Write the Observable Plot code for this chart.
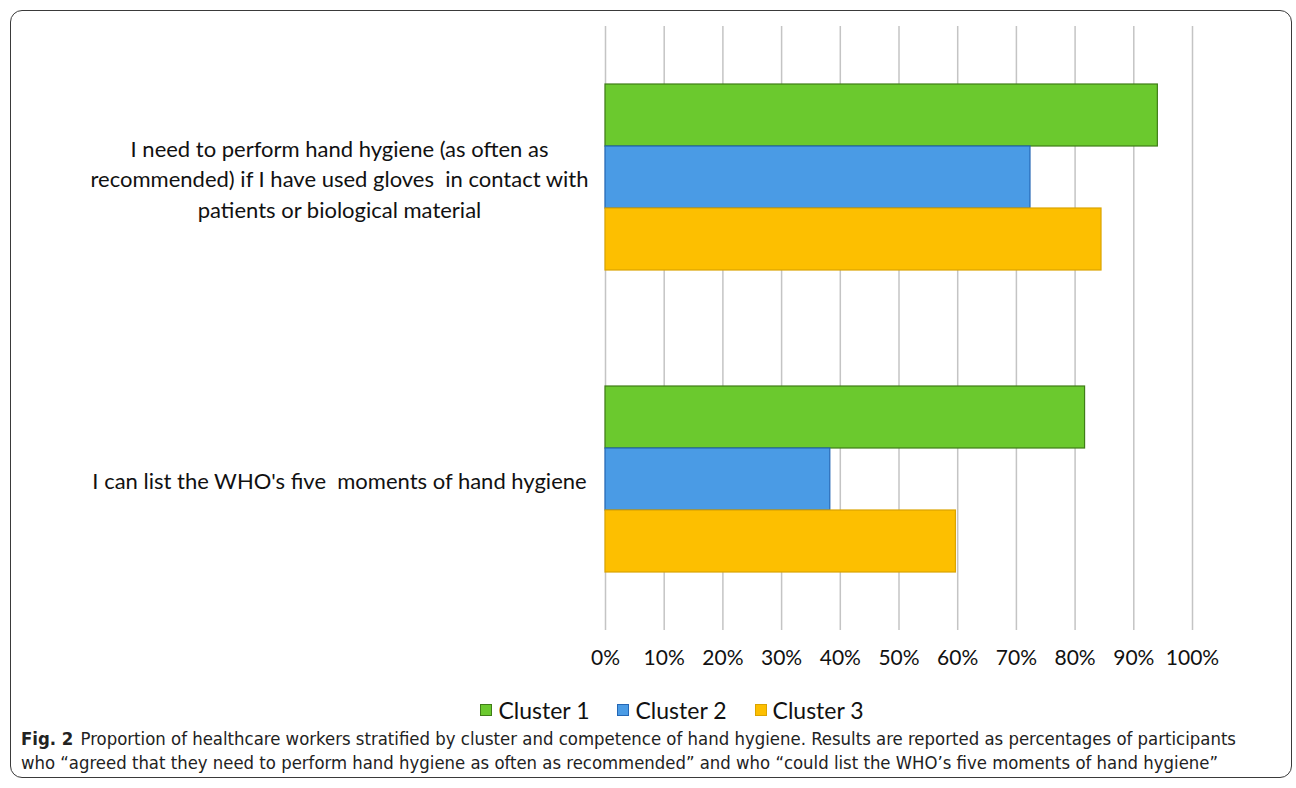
<!DOCTYPE html>
<html>
<head>
<meta charset="utf-8">
<script src="https://cdn.jsdelivr.net/npm/d3@7"></script>
<script src="https://cdn.jsdelivr.net/npm/@observablehq/plot@0.6"></script>
<style>
  html, body { margin: 0; padding: 0; background: #fff; }
  #wrap { position: relative; width: 1296px; height: 788px; overflow: hidden; }
  #frame { position: absolute; left: 10px; top: 10px; width: 1282px; height: 768px;
           border: 1.5px solid #3a3a3a; border-radius: 12px; box-sizing: border-box; }
  #chart { position: absolute; left: 0; top: 0; }
  #legend { position: absolute; left: 0; top: 696px; width: 1296px; display: flex; justify-content: center;
            font-family: Lato, sans-serif; font-size: 23px; color: #111; padding-left: 76px; box-sizing: border-box; }
  .item { display: flex; align-items: center; margin-right: 28px; }
  .sw { width: 12px; height: 12px; margin-right: 6px; border: 1.5px solid; box-sizing: border-box; }
  #caption { position: absolute; left: 21px; top: 727px;
             font-family: "Liberation Sans Narrow", "DejaVu Sans Condensed", "Roboto", sans-serif;
             font-size: 18px; line-height: 24px; color: #222; }
  .cl { white-space: nowrap; transform-origin: 0 50%; display: block; width: max-content; }
  .fig { font-weight: bold; margin-right: 7px; }
</style>
</head>
<body>
<div id="wrap">
  <div id="frame"></div>
  <div id="chart"></div>
  <div id="legend"></div>
  <div id="caption"></div>
</div>
<script>
const questions = [
  "I need to perform hand hygiene (as often as\nrecommended) if I have used gloves  in contact with\npatients or biological material",
  "I can list the WHO's five  moments of hand hygiene"
];
const clusters = ["Cluster 1", "Cluster 2", "Cluster 3"];
const cluster1 = [0.941, 0.817];
const cluster2 = [0.724, 0.383];
const cluster3 = [0.845, 0.597];
const xTicks = [0, 0.1, 0.2, 0.3, 0.4, 0.5, 0.6, 0.7, 0.8, 0.9, 1.0];

const captionLabel = "Fig. 2";
const captionLines = [
  "Proportion of healthcare workers stratified by cluster and competence of hand hygiene. Results are reported as percentages of participants",
  "who “agreed that they need to perform hand hygiene as often as recommended” and who “could list the WHO’s five moments of hand hygiene”"
];

const fills = ["#6bc92e", "#4a9be5", "#fdbf00"];
const strokes = ["#3f7d17", "#2467b5", "#dba400"];

const seriesVals = [cluster1, cluster2, cluster3];
const rows = [];
questions.forEach((q, i) => {
  clusters.forEach((c, j) => rows.push({question: q, cluster: c, value: seriesVals[j][i]}));
});

const chart = Plot.plot({
  width: 1296,
  height: 690,
  marginLeft: 605,
  marginRight: 104,
  marginTop: 25,
  marginBottom: 60,
  style: {fontFamily: "Lato, sans-serif", fontSize: "21px", color: "#111", background: "transparent"},
  x: {domain: [0, 1], ticks: xTicks, tickFormat: d3.format(".0%"), tickSize: 0, tickPadding: 20, label: null},
  fy: {domain: questions, paddingInner: 0, paddingOuter: 0, axis: null, label: null},
  y: {domain: clusters, paddingInner: 0, paddingOuter: 0.92, axis: null, label: null},
  color: {domain: clusters, range: fills},
  marks: [
    Plot.gridX(xTicks, {stroke: "#c4c4c4", strokeOpacity: 1, strokeWidth: 1.5}),
    Plot.barX(rows, {
      fy: "question", y: "cluster", x: "value", fill: "cluster",
      stroke: d => strokes[clusters.indexOf(d.cluster)], strokeWidth: 1.2
    }),
    Plot.text(questions, {
      fy: d => d, text: d => d, frameAnchor: "left", dx: -266,
      textAnchor: "middle", lineHeight: 1.4, fontSize: 22, fill: "#111"
    })
  ]
});
document.getElementById("chart").appendChild(chart);

const legend = document.getElementById("legend");
clusters.forEach((c, j) => {
  const it = document.createElement("div");
  it.className = "item";
  const sw = document.createElement("span");
  sw.className = "sw";
  sw.style.background = fills[j];
  sw.style.borderColor = strokes[j];
  const tx = document.createElement("span");
  tx.textContent = c;
  it.appendChild(sw); it.appendChild(tx);
  legend.appendChild(it);
});

// caption: two lines, each fitted to the reference line width
const cap = document.getElementById("caption");
const targetW = [1215, 1197];
captionLines.forEach((t, i) => {
  const line = document.createElement("div");
  line.className = "cl";
  if (i === 0) {
    const b = document.createElement("span");
    b.className = "fig";
    b.textContent = captionLabel;
    line.appendChild(b);
  }
  const s = document.createElement("span");
  s.textContent = t;
  line.appendChild(s);
  cap.appendChild(line);
  const w = line.getBoundingClientRect().width;
  line.style.transform = `scaleX(${targetW[i] / w})`;
});
</script>
</body>
</html>
